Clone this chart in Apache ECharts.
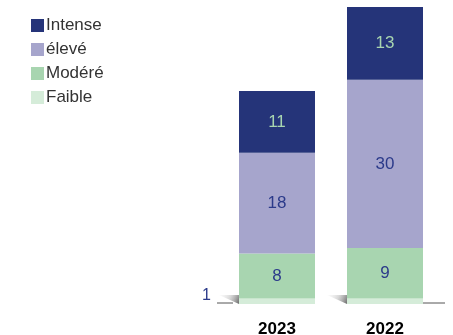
<!DOCTYPE html>
<html>
<head>
<meta charset="utf-8">
<script src="https://cdn.jsdelivr.net/npm/echarts@6/dist/echarts.min.js"></script>
<style>
  html, body { margin: 0; padding: 0; background: #fff; }
  #chart { width: 453px; height: 335px; }
</style>
</head>
<body>
<div id="chart"></div>
<script>
// Intensity levels per year, stacked bottom to top
const years = ['2023', '2022'];
const faible = [1, 1];
const modere = [8, 9];
const eleve = [18, 30];
const intense = [11, 13];

const colors = {
  intense: '#253479',
  eleve: '#a6a5cc',
  modere: '#a8d5b0',
  faible: '#d5ecd9'
};
const labelDark = '#2b3a8a';
const fontFamily = 'Liberation Sans, Arial, sans-serif';

const chart = echarts.init(document.getElementById('chart'));

function segment(name, data, color, labelColor, showLabel) {
  return {
    name: name,
    type: 'bar',
    stack: 'total',
    barWidth: 76,
    data: data,
    itemStyle: { color: color },
    label: {
      show: showLabel,
      position: 'inside',
      color: labelColor,
      fontSize: 17,
      fontFamily: fontFamily
    },
    emphasis: { disabled: true }
  };
}

// Small shaded wedge at the foot of each bar
const shadowSeries = {
  type: 'custom',
  z: 1,
  silent: true,
  data: years.map((y, i) => [i, 0]),
  renderItem: function (params, api) {
    const base = api.coord([api.value(0), 0]);
    const unit = api.coord([api.value(0), 1]);
    const h = base[1] - unit[1];
    const left = base[0] - 38;
    return {
      type: 'polygon',
      shape: {
        points: [
          [left - 20, base[1] - h * 1.6],
          [left, base[1] - h * 1.6],
          [left, base[1]]
        ]
      },
      style: {
        fill: {
          type: 'linear', x: 0, y: 0, x2: 1, y2: 1,
          colorStops: [
            { offset: 0, color: 'rgba(220,220,220,0.1)' },
            { offset: 0.5, color: 'rgba(180,180,180,0.5)' },
            { offset: 1, color: 'rgba(90,90,90,0.9)' }
          ]
        }
      }
    };
  }
};

const faibleSeries = segment('Faible', faible, colors.faible, labelDark, false);
faibleSeries.data = faible.map((v, i) => i === 0
  ? { value: v, label: { show: true, position: 'left', distance: 28, offset: [0, -6], color: labelDark, fontSize: 16 } }
  : v);

chart.setOption({
  animation: false,
  textStyle: { fontFamily: fontFamily },
  legend: {
    orient: 'vertical',
    left: 26,
    top: 12,
    itemWidth: 13,
    itemHeight: 13,
    itemGap: 7,
    icon: 'rect',
    data: ['Intense', 'élevé', 'Modéré', 'Faible'],
    textStyle: { fontSize: 17, color: '#333', fontFamily: fontFamily, padding: [0, 0, 0, -3] }
  },
  grid: { left: 223, right: 14, top: 7, bottom: 31, containLabel: false, outerBoundsMode: 'none' },
  xAxis: {
    type: 'category',
    data: years,
    axisLine: { show: false },
    axisTick: { show: false },
    axisLabel: {
      color: '#000',
      fontSize: 17,
      fontWeight: 'bold',
      margin: 17,
      fontFamily: fontFamily
    }
  },
  yAxis: {
    type: 'value',
    min: 0,
    max: 53,
    show: false
  },
  series: [
    shadowSeries,
    faibleSeries,
    segment('Modéré', modere, colors.modere, labelDark, true),
    segment('élevé', eleve, colors.eleve, labelDark, true),
    segment('Intense', intense, colors.intense, colors.modere, true),
    // Baseline strokes on either side of the bars
    {
      type: 'custom',
      silent: true,
      z: 3,
      data: [[0, 0, -1], [1, 0, 1]],
      renderItem: function (params, api) {
        const p = api.coord([api.value(0), api.value(1)]);
        const dir = api.value(2);
        const x0 = p[0] + dir * 38;
        return {
          type: 'line',
          shape: { x1: x0 + dir * (dir < 0 ? 6 : 0), y1: p[1] - 1, x2: x0 + dir * 22, y2: p[1] - 1 },
          style: { stroke: '#555', lineWidth: 1 }
        };
      }
    }
  ]
});
</script>
</body>
</html>
